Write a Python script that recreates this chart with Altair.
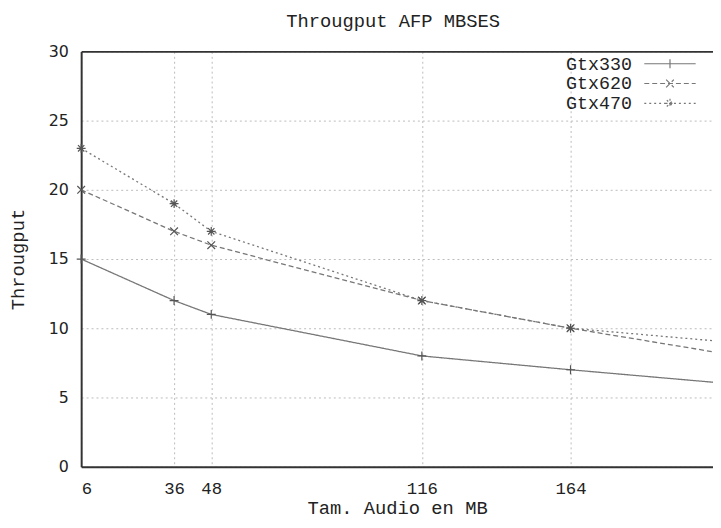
import altair as alt
import pandas as pd

chart_title = "Througput AFP MBSES"
x_title = "Tam. Audio en MB"
y_title = "Througput"
series = ["Gtx330", "Gtx620", "Gtx470"]
# x positions (MB); the last one is where the plot is cut off at the right edge
sizes = [6, 36, 48, 116, 164, 210]
gtx330 = [15, 12, 11, 8, 7, 6.1]
gtx620 = [20, 17, 16, 12, 10, 8.3]
gtx470 = [23, 19, 17, 12, 10, 9.1]
marked = [True, True, True, True, True, False]
x_ticks = [6, 36, 48, 116, 164]
y_ticks = [0, 5, 10, 15, 20, 25, 30]

rows = []
for name, vals in zip(series, [gtx330, gtx620, gtx470]):
    for s, v, m in zip(sizes, vals, marked):
        rows.append({"size": s, "value": v, "series": name, "marker": m})
df = pd.DataFrame(rows)

FONT = "Liberation Mono"
TXT = "#222222"
AX = "#333333"
GRID = "#bbbbbb"
LINE = "#777777"
MARK = "#555555"

dashes = [[1, 0], [5, 3], [2, 3]]
plus = "M0,-0.52V0.52M-0.52,0H0.52"
cross = "M-0.45,-0.45L0.45,0.45M-0.45,0.45L0.45,-0.45"
star = plus + "M-0.37,-0.37L0.37,0.37M-0.37,0.37L0.37,-0.37"
marker_paths = [plus, cross, star]
legend_paths = ["M-3,0H3" + p for p in marker_paths]

xscale = alt.Scale(domain=[sizes[0], sizes[-1]], nice=False, zero=False)
yscale = alt.Scale(domain=[0, 30], nice=False)

x_bottom = alt.X(
    "size:Q",
    scale=xscale,
    axis=alt.Axis(
        orient="bottom", values=x_ticks, grid=True, gridColor=GRID,
        gridDash=[2, 3], ticks=False, domainColor=AX, domainWidth=2,
        labelFont=FONT, labelFontSize=17.5, labelColor=TXT, labelPadding=22,
        labelBaseline="middle", title=x_title, titleFont=FONT,
        titleFontSize=19, titleFontWeight="normal", titleColor=TXT,
        titleY=47, titleBaseline="alphabetic",
    ),
)
# top frame line of the plot; carries the chart title
x_top = alt.X(
    "size:Q",
    scale=xscale,
    axis=alt.Axis(
        orient="top", labels=False, ticks=False, grid=False, domain=True,
        domainColor=AX, domainWidth=2, title=chart_title, titleFont=FONT,
        titleFontSize=19, titleFontWeight="normal", titleColor=TXT,
        titleX=315, titleY=-25, titleBaseline="alphabetic", titleAlign="center",
    ),
)
y_enc = alt.Y(
    "value:Q",
    scale=yscale,
    axis=alt.Axis(
        values=y_ticks, grid=True, gridColor=GRID, gridDash=[2, 3], ticks=False,
        domainColor=AX, domainWidth=2, labelFont="DejaVu Sans", labelFontSize=16,
        labelColor=TXT, labelPadding=13, title=y_title, titleFont=FONT,
        titleFontSize=19, titleFontWeight="normal", titleColor=TXT,
        titleX=-64, titleY=210, titleBaseline="middle", titleAngle=270,
    ),
)

legend = alt.Legend(
    orient="none", legendX=586, legendY=3, title=None, padding=0,
    symbolSize=300, labelFont=FONT, labelFontSize=18.5, labelColor=TXT,
    rowPadding=1, labelAlign="right", labelOffset={"expr": "-48"},
    symbolStrokeColor=LINE, symbolStrokeWidth=1.2,
    symbolFillColor="transparent", symbolOpacity=1,
)

dash_scale = alt.Scale(domain=series, range=dashes)

base = alt.Chart(df)

lines = base.mark_line(color=LINE, strokeWidth=1.3).encode(
    x=x_bottom,
    y=y_enc,
    strokeDash=alt.StrokeDash("series:N", scale=dash_scale, legend=legend),
)

point_layers = []
for i, (name, path) in enumerate(zip(series, marker_paths)):
    p = base.transform_filter(
        alt.datum.marker & (alt.datum.series == name)
    ).mark_point(
        filled=False, color=MARK, size=300, strokeWidth=1.2, opacity=1, shape=path
    ).encode(
        x=x_top if i == 0 else alt.X("size:Q", scale=xscale, axis=None),
        y=y_enc,
    )
    point_layers.append(p)

# legend-only layer (draws no marks): line sample + marker symbol per series
key = base.transform_filter("false").mark_point(
    filled=False, color=LINE, size=300, strokeWidth=1.2, opacity=1
).encode(
    x=alt.X("size:Q", scale=xscale, axis=None),
    y=y_enc,
    shape=alt.Shape(
        "series:N",
        scale=alt.Scale(domain=series, range=legend_paths),
        legend=legend,
    ),
    strokeDash=alt.StrokeDash("series:N", scale=dash_scale, legend=legend),
)

chart = (
    alt.layer(lines, *point_layers, key)
    .resolve_axis(x="independent")
    .properties(
        width=639,
        height=420,
        autosize=alt.AutoSizeParams(type="none"),
        padding={"left": 74, "top": 41, "right": 0, "bottom": 47},
    )
    .configure_view(stroke=None)
)

chart.save("out.html", embed_options={"renderer": "svg", "actions": False})
